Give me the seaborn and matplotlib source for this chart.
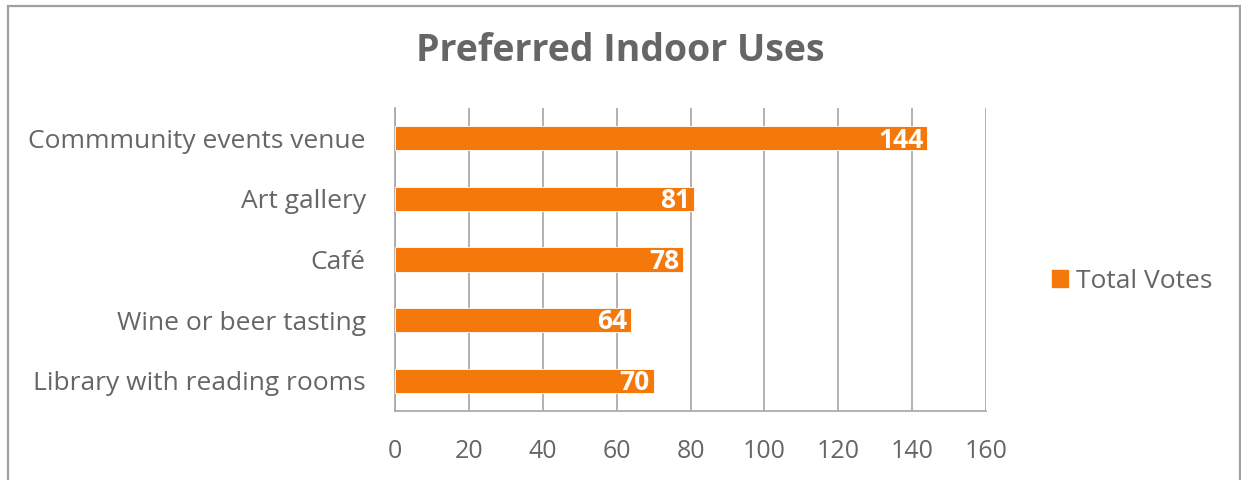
import matplotlib
matplotlib.use("Agg")
import matplotlib.pyplot as plt
import seaborn as sns
import pandas as pd
from matplotlib.patches import Rectangle, Patch

categories = ["Commmunity events venue", "Art gallery", "Café",
              "Wine or beer tasting", "Library with reading rooms"]
votes = [144, 81, 78, 64, 70]
series_name = "Total Votes"
x_ticks = [0, 20, 40, 60, 80, 100, 120, 140, 160]
title = "Preferred Indoor Uses"

BAR = "#F5780A"
GRID = "#A6A6A6"
TXT = "#666666"

sns.set_theme(style="white")
plt.rcParams["font.family"] = ["Open Sans", "DejaVu Sans"]

df = pd.DataFrame({"cat": categories, "votes": votes})

fig = plt.figure(figsize=(12.41, 4.80), dpi=100)
ax = fig.add_axes([395/1241, 69/480, (986-395)/1241, (411-108)/480])

sns.barplot(data=df, x="votes", y="cat", color=BAR, width=0.4, ax=ax,
            saturation=1, edgecolor="white", linewidth=0.6, zorder=3)

ax.set_xlim(0, 160)
ax.set_ylim(len(categories) - 0.5, -0.5)
ax.set_xticks(x_ticks)
ax.set_xticklabels([str(t) for t in x_ticks], fontsize=18, color=TXT)
ax.set_xlabel("")
ax.set_ylabel("")
ax.tick_params(axis="y", which="major", length=0, labelsize=19, labelcolor=TXT, pad=21)
ax.set_yticks([i - 0.5 for i in range(len(categories) + 1)], minor=True)
ax.tick_params(axis="y", which="minor", length=9, width=1.2, color=GRID, direction="out")
ax.tick_params(axis="x", which="major", length=8, width=1.2, color=GRID, direction="out", pad=12)
ax.grid(axis="x", color=GRID, linewidth=1.2, zorder=0)
ax.set_axisbelow(True)
for s in ["top", "right"]:
    ax.spines[s].set_visible(False)
for s in ["left", "bottom"]:
    ax.spines[s].set_color(GRID)
    ax.spines[s].set_linewidth(1.2)

for i, v in enumerate(votes):
    ax.text(v - 1.0, i + 0.03, str(v), ha="right", va="center", color="white",
            fontsize=19, fontweight="bold", zorder=4)

fig.text(0.5, 1 - 51/480, title, ha="center", va="center", fontsize=27,
         fontweight="bold", color=TXT)

handle = Patch(facecolor=BAR, edgecolor=BAR)
fig.legend([handle], [series_name], loc="center left",
           bbox_to_anchor=(1028/1241, 1 - 281/480), frameon=False,
           fontsize=19, labelcolor=TXT, handlelength=0.6, handleheight=0.6,
           handletextpad=0.3)

fig.patches.append(Rectangle((7.5/1241, -0.05), (1240 - 7.5)/1241, 1.05 - 5.5/480,
                             transform=fig.transFigure, fill=False,
                             edgecolor="#A0A0A0", linewidth=1.6))

fig.savefig("out.png", dpi=100)
